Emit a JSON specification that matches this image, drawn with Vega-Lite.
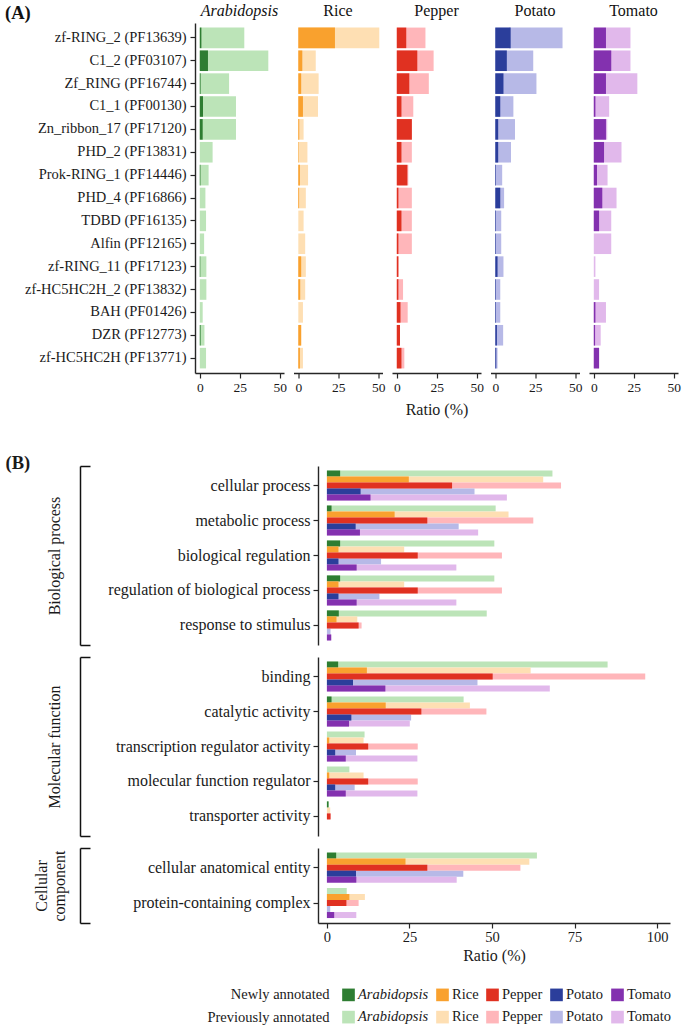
{
  "$schema": "https://vega.github.io/schema/vega-lite/v6.json",
  "padding": {"left": 5, "top": 3, "right": 2, "bottom": 0},
  "background": "white",
  "title": {"text": "(A)", "anchor": "start", "frame": "bounds", "orient": "top", "fontSize": 18.5, "fontWeight": "bold", "offset": -19, "color": "#111111"},
  "config": {
    "font": "Liberation Serif",
    "view": {"stroke": null},
    "axis": {"labelFont": "Liberation Serif", "titleFont": "Liberation Serif", "labelColor": "#1a1a1a", "titleColor": "#1a1a1a", "domainColor": "#262626", "tickColor": "#262626", "domainWidth": 1.4, "tickWidth": 1.2, "grid": false, "titleFontWeight": "normal"},
    "title": {"font": "Liberation Serif", "fontSize": 16, "fontWeight": "normal", "color": "#111111", "anchor": "middle", "frame": "group", "offset": 4},
    "text": {"font": "Liberation Serif"}
  },
  "datasets": {
    "pfam": [
      {"feature": "zf-RING_2 (PF13639)", "species": "Arabidopsis", "new": 1, "total": 27.8},
      {"feature": "C1_2 (PF03107)", "species": "Arabidopsis", "new": 5.1, "total": 42.8},
      {"feature": "Zf_RING (PF16744)", "species": "Arabidopsis", "new": 0.5, "total": 18.3},
      {"feature": "C1_1 (PF00130)", "species": "Arabidopsis", "new": 2, "total": 22.6},
      {"feature": "Zn_ribbon_17 (PF17120)", "species": "Arabidopsis", "new": 1.8, "total": 22.6},
      {"feature": "PHD_2 (PF13831)", "species": "Arabidopsis", "new": 0, "total": 8},
      {"feature": "Prok-RING_1 (PF14446)", "species": "Arabidopsis", "new": 0.4, "total": 5.5},
      {"feature": "PHD_4 (PF16866)", "species": "Arabidopsis", "new": 0, "total": 3.5},
      {"feature": "TDBD (PF16135)", "species": "Arabidopsis", "new": 0, "total": 3.9},
      {"feature": "Alfin (PF12165)", "species": "Arabidopsis", "new": 0, "total": 2.7},
      {"feature": "zf-RING_11 (PF17123)", "species": "Arabidopsis", "new": 0.3, "total": 4.1},
      {"feature": "zf-HC5HC2H_2 (PF13832)", "species": "Arabidopsis", "new": 0, "total": 4.1},
      {"feature": "BAH (PF01426)", "species": "Arabidopsis", "new": 0, "total": 1.8},
      {"feature": "DZR (PF12773)", "species": "Arabidopsis", "new": 0.5, "total": 2.9},
      {"feature": "zf-HC5HC2H (PF13771)", "species": "Arabidopsis", "new": 0, "total": 3.9},
      {"feature": "zf-RING_2 (PF13639)", "species": "Rice", "new": 22.9, "total": 50.6},
      {"feature": "C1_2 (PF03107)", "species": "Rice", "new": 2.5, "total": 10.9},
      {"feature": "Zf_RING (PF16744)", "species": "Rice", "new": 1.8, "total": 12.7},
      {"feature": "C1_1 (PF00130)", "species": "Rice", "new": 2.9, "total": 12.3},
      {"feature": "Zn_ribbon_17 (PF17120)", "species": "Rice", "new": 0.6, "total": 3.3},
      {"feature": "PHD_2 (PF13831)", "species": "Rice", "new": 0.3, "total": 5.7},
      {"feature": "Prok-RING_1 (PF14446)", "species": "Rice", "new": 1, "total": 6.1},
      {"feature": "PHD_4 (PF16866)", "species": "Rice", "new": 0.5, "total": 4.7},
      {"feature": "TDBD (PF16135)", "species": "Rice", "new": 0, "total": 3.3},
      {"feature": "Alfin (PF12165)", "species": "Rice", "new": 0, "total": 4.3},
      {"feature": "zf-RING_11 (PF17123)", "species": "Rice", "new": 1.8, "total": 4.7},
      {"feature": "zf-HC5HC2H_2 (PF13832)", "species": "Rice", "new": 1.2, "total": 4.3},
      {"feature": "BAH (PF01426)", "species": "Rice", "new": 0, "total": 2.9},
      {"feature": "DZR (PF12773)", "species": "Rice", "new": 1.8, "total": 1.8},
      {"feature": "zf-HC5HC2H (PF13771)", "species": "Rice", "new": 1, "total": 2.9},
      {"feature": "zf-RING_2 (PF13639)", "species": "Pepper", "new": 5.9, "total": 17.9},
      {"feature": "C1_2 (PF03107)", "species": "Pepper", "new": 12.8, "total": 23},
      {"feature": "Zf_RING (PF16744)", "species": "Pepper", "new": 7.8, "total": 20},
      {"feature": "C1_1 (PF00130)", "species": "Pepper", "new": 2.9, "total": 10.3},
      {"feature": "Zn_ribbon_17 (PF17120)", "species": "Pepper", "new": 9.4, "total": 9.4},
      {"feature": "PHD_2 (PF13831)", "species": "Pepper", "new": 2.9, "total": 9.4},
      {"feature": "Prok-RING_1 (PF14446)", "species": "Pepper", "new": 6.6, "total": 7.2},
      {"feature": "PHD_4 (PF16866)", "species": "Pepper", "new": 1, "total": 9.4},
      {"feature": "TDBD (PF16135)", "species": "Pepper", "new": 2.9, "total": 9.4},
      {"feature": "Alfin (PF12165)", "species": "Pepper", "new": 1, "total": 9.4},
      {"feature": "zf-RING_11 (PF17123)", "species": "Pepper", "new": 1, "total": 1},
      {"feature": "zf-HC5HC2H_2 (PF13832)", "species": "Pepper", "new": 1, "total": 3.9},
      {"feature": "BAH (PF01426)", "species": "Pepper", "new": 2.3, "total": 6.8},
      {"feature": "DZR (PF12773)", "species": "Pepper", "new": 2, "total": 2},
      {"feature": "zf-HC5HC2H (PF13771)", "species": "Pepper", "new": 2.9, "total": 4.7},
      {"feature": "zf-RING_2 (PF13639)", "species": "Potato", "new": 9.6, "total": 42},
      {"feature": "C1_2 (PF03107)", "species": "Potato", "new": 7.2, "total": 23.7},
      {"feature": "Zf_RING (PF16744)", "species": "Potato", "new": 5.1, "total": 25.7},
      {"feature": "C1_1 (PF00130)", "species": "Potato", "new": 3.1, "total": 11.3},
      {"feature": "Zn_ribbon_17 (PF17120)", "species": "Potato", "new": 1.8, "total": 12.3},
      {"feature": "PHD_2 (PF13831)", "species": "Potato", "new": 1.8, "total": 9.8},
      {"feature": "Prok-RING_1 (PF14446)", "species": "Potato", "new": 0.4, "total": 4.3},
      {"feature": "PHD_4 (PF16866)", "species": "Potato", "new": 3.1, "total": 5.5},
      {"feature": "TDBD (PF16135)", "species": "Potato", "new": 0.4, "total": 3.7},
      {"feature": "Alfin (PF12165)", "species": "Potato", "new": 0.4, "total": 3.7},
      {"feature": "zf-RING_11 (PF17123)", "species": "Potato", "new": 1.4, "total": 5.1},
      {"feature": "zf-HC5HC2H_2 (PF13832)", "species": "Potato", "new": 0.4, "total": 3.1},
      {"feature": "BAH (PF01426)", "species": "Potato", "new": 0.4, "total": 3.1},
      {"feature": "DZR (PF12773)", "species": "Potato", "new": 1, "total": 4.9},
      {"feature": "zf-HC5HC2H (PF13771)", "species": "Potato", "new": 0.6, "total": 1.4},
      {"feature": "zf-RING_2 (PF13639)", "species": "Tomato", "new": 7.6, "total": 22.9},
      {"feature": "C1_2 (PF03107)", "species": "Tomato", "new": 10.9, "total": 22.9},
      {"feature": "Zf_RING (PF16744)", "species": "Tomato", "new": 7.6, "total": 27.2},
      {"feature": "C1_1 (PF00130)", "species": "Tomato", "new": 1, "total": 9.6},
      {"feature": "Zn_ribbon_17 (PF17120)", "species": "Tomato", "new": 7.6, "total": 8.4},
      {"feature": "PHD_2 (PF13831)", "species": "Tomato", "new": 6.4, "total": 17.3},
      {"feature": "Prok-RING_1 (PF14446)", "species": "Tomato", "new": 2, "total": 8.6},
      {"feature": "PHD_4 (PF16866)", "species": "Tomato", "new": 5.3, "total": 14.2},
      {"feature": "TDBD (PF16135)", "species": "Tomato", "new": 3.3, "total": 10.9},
      {"feature": "Alfin (PF12165)", "species": "Tomato", "new": 0, "total": 10.9},
      {"feature": "zf-RING_11 (PF17123)", "species": "Tomato", "new": 0, "total": 1},
      {"feature": "zf-HC5HC2H_2 (PF13832)", "species": "Tomato", "new": 0, "total": 3.3},
      {"feature": "BAH (PF01426)", "species": "Tomato", "new": 1, "total": 7.6},
      {"feature": "DZR (PF12773)", "species": "Tomato", "new": 0.8, "total": 4.3},
      {"feature": "zf-HC5HC2H (PF13771)", "species": "Tomato", "new": 3.3, "total": 3.3}
    ],
    "go": [
      {"cat": "BP", "term": "cellular process", "species": "Arabidopsis", "new": 4.0, "total": 68.3},
      {"cat": "BP", "term": "cellular process", "species": "Rice", "new": 24.8, "total": 65.5},
      {"cat": "BP", "term": "cellular process", "species": "Pepper", "new": 37.9, "total": 70.9},
      {"cat": "BP", "term": "cellular process", "species": "Potato", "new": 10.2, "total": 44.7},
      {"cat": "BP", "term": "cellular process", "species": "Tomato", "new": 13.2, "total": 54.5},
      {"cat": "BP", "term": "metabolic process", "species": "Arabidopsis", "new": 1.4, "total": 51.1},
      {"cat": "BP", "term": "metabolic process", "species": "Rice", "new": 20.5, "total": 55.0},
      {"cat": "BP", "term": "metabolic process", "species": "Pepper", "new": 30.4, "total": 62.5},
      {"cat": "BP", "term": "metabolic process", "species": "Potato", "new": 8.7, "total": 39.9},
      {"cat": "BP", "term": "metabolic process", "species": "Tomato", "new": 10.0, "total": 45.8},
      {"cat": "BP", "term": "biological regulation", "species": "Arabidopsis", "new": 4.0, "total": 50.7},
      {"cat": "BP", "term": "biological regulation", "species": "Rice", "new": 3.5, "total": 23.4},
      {"cat": "BP", "term": "biological regulation", "species": "Pepper", "new": 27.5, "total": 53.0},
      {"cat": "BP", "term": "biological regulation", "species": "Potato", "new": 3.5, "total": 16.4},
      {"cat": "BP", "term": "biological regulation", "species": "Tomato", "new": 9.0, "total": 39.2},
      {"cat": "BP", "term": "regulation of biological process", "species": "Arabidopsis", "new": 4.0, "total": 50.7},
      {"cat": "BP", "term": "regulation of biological process", "species": "Rice", "new": 3.5, "total": 23.4},
      {"cat": "BP", "term": "regulation of biological process", "species": "Pepper", "new": 27.5, "total": 53.0},
      {"cat": "BP", "term": "regulation of biological process", "species": "Potato", "new": 3.5, "total": 15.9},
      {"cat": "BP", "term": "regulation of biological process", "species": "Tomato", "new": 9.0, "total": 39.2},
      {"cat": "BP", "term": "response to stimulus", "species": "Arabidopsis", "new": 3.6, "total": 48.4},
      {"cat": "BP", "term": "response to stimulus", "species": "Rice", "new": 2.9, "total": 9.2},
      {"cat": "BP", "term": "response to stimulus", "species": "Pepper", "new": 9.6, "total": 10.5},
      {"cat": "BP", "term": "response to stimulus", "species": "Potato", "new": 0, "total": 1.1},
      {"cat": "BP", "term": "response to stimulus", "species": "Tomato", "new": 1.3, "total": 1.3},
      {"cat": "MF", "term": "binding", "species": "Arabidopsis", "new": 3.4, "total": 85.0},
      {"cat": "MF", "term": "binding", "species": "Rice", "new": 12.1, "total": 61.7},
      {"cat": "MF", "term": "binding", "species": "Pepper", "new": 50.2, "total": 96.4},
      {"cat": "MF", "term": "binding", "species": "Potato", "new": 7.9, "total": 45.6},
      {"cat": "MF", "term": "binding", "species": "Tomato", "new": 17.7, "total": 67.5},
      {"cat": "MF", "term": "catalytic activity", "species": "Arabidopsis", "new": 1.4, "total": 41.4},
      {"cat": "MF", "term": "catalytic activity", "species": "Rice", "new": 17.8, "total": 43.3},
      {"cat": "MF", "term": "catalytic activity", "species": "Pepper", "new": 28.6, "total": 48.3},
      {"cat": "MF", "term": "catalytic activity", "species": "Potato", "new": 7.4, "total": 25.5},
      {"cat": "MF", "term": "catalytic activity", "species": "Tomato", "new": 6.7, "total": 25.1},
      {"cat": "MF", "term": "transcription regulator activity", "species": "Arabidopsis", "new": 0, "total": 11.4},
      {"cat": "MF", "term": "transcription regulator activity", "species": "Rice", "new": 0.7, "total": 11.1},
      {"cat": "MF", "term": "transcription regulator activity", "species": "Pepper", "new": 12.5, "total": 27.5},
      {"cat": "MF", "term": "transcription regulator activity", "species": "Potato", "new": 2.5, "total": 8.8},
      {"cat": "MF", "term": "transcription regulator activity", "species": "Tomato", "new": 5.7, "total": 27.4},
      {"cat": "MF", "term": "molecular function regulator", "species": "Arabidopsis", "new": 0, "total": 6.8},
      {"cat": "MF", "term": "molecular function regulator", "species": "Rice", "new": 0.7, "total": 11.1},
      {"cat": "MF", "term": "molecular function regulator", "species": "Pepper", "new": 12.5, "total": 27.5},
      {"cat": "MF", "term": "molecular function regulator", "species": "Potato", "new": 2.5, "total": 8.4},
      {"cat": "MF", "term": "molecular function regulator", "species": "Tomato", "new": 5.7, "total": 27.4},
      {"cat": "MF", "term": "transporter activity", "species": "Arabidopsis", "new": 0.5, "total": 0.5},
      {"cat": "MF", "term": "transporter activity", "species": "Rice", "new": 0, "total": 1.0},
      {"cat": "MF", "term": "transporter activity", "species": "Pepper", "new": 1.1, "total": 1.1},
      {"cat": "MF", "term": "transporter activity", "species": "Potato", "new": 0, "total": 0},
      {"cat": "MF", "term": "transporter activity", "species": "Tomato", "new": 0, "total": 0},
      {"cat": "CC", "term": "cellular anatomical entity", "species": "Arabidopsis", "new": 2.8, "total": 63.6},
      {"cat": "CC", "term": "cellular anatomical entity", "species": "Rice", "new": 23.8, "total": 61.3},
      {"cat": "CC", "term": "cellular anatomical entity", "species": "Pepper", "new": 30.4, "total": 58.6},
      {"cat": "CC", "term": "cellular anatomical entity", "species": "Potato", "new": 8.8, "total": 41.3},
      {"cat": "CC", "term": "cellular anatomical entity", "species": "Tomato", "new": 8.9, "total": 39.3},
      {"cat": "CC", "term": "protein-containing complex", "species": "Arabidopsis", "new": 0, "total": 6.0},
      {"cat": "CC", "term": "protein-containing complex", "species": "Rice", "new": 6.8, "total": 11.5},
      {"cat": "CC", "term": "protein-containing complex", "species": "Pepper", "new": 5.9, "total": 9.6},
      {"cat": "CC", "term": "protein-containing complex", "species": "Potato", "new": 0, "total": 1.0},
      {"cat": "CC", "term": "protein-containing complex", "species": "Tomato", "new": 2.2, "total": 8.9}
    ],
    "status": [{"status": "Newly annotated"}, {"status": "Previously annotated"}]
  },
  "concat": [
    {
      "hconcat": [
        {
          "width": 89, "height": 350,
          "title": {"text": "Arabidopsis", "fontStyle": "italic"},
          "data": {"name": "pfam"},
          "transform": [{"filter": "datum.species === 'Arabidopsis'"}],
          "encoding": {"y": {"field": "feature", "type": "nominal", "sort": ["zf-RING_2 (PF13639)","C1_2 (PF03107)","Zf_RING (PF16744)","C1_1 (PF00130)","Zn_ribbon_17 (PF17120)","PHD_2 (PF13831)","Prok-RING_1 (PF14446)","PHD_4 (PF16866)","TDBD (PF16135)","Alfin (PF12165)","zf-RING_11 (PF17123)","zf-HC5HC2H_2 (PF13832)","BAH (PF01426)","DZR (PF12773)","zf-HC5HC2H (PF13771)"], "scale": {"paddingInner": 0.1, "paddingOuter": 0.2},
            "axis": {"title": null, "labelFontSize": 14.5, "tickSize": 5, "labelPadding": 4, "labelLimit": 300}}},
          "layer": [
            {"mark": {"type": "bar", "color": "#BCE4B8"}, "encoding": {"x": {"field": "total", "type": "quantitative", "stack": null, "scale": {"domain": [-3, 52.6], "nice": false}, "axis": {"values": [0, 25, 50], "title": null, "labelFlush": false, "tickSize": 5, "labelFontSize": 13.5, "labelPadding": 2}}}},
            {"mark": {"type": "bar", "color": "#2E7D32"}, "encoding": {"x": {"field": "new", "type": "quantitative", "stack": null, "axis": {"values": [0, 25, 50], "title": null, "labelFlush": false, "tickSize": 5, "labelFontSize": 13.5, "labelPadding": 2}}}}
          ]
        },
        {
          "width": 89, "height": 350,
          "title": {"text": "Rice"},
          "data": {"name": "pfam"},
          "transform": [{"filter": "datum.species === 'Rice'"}],
          "encoding": {"y": {"field": "feature", "type": "nominal", "sort": ["zf-RING_2 (PF13639)","C1_2 (PF03107)","Zf_RING (PF16744)","C1_1 (PF00130)","Zn_ribbon_17 (PF17120)","PHD_2 (PF13831)","Prok-RING_1 (PF14446)","PHD_4 (PF16866)","TDBD (PF16135)","Alfin (PF12165)","zf-RING_11 (PF17123)","zf-HC5HC2H_2 (PF13832)","BAH (PF01426)","DZR (PF12773)","zf-HC5HC2H (PF13771)"], "scale": {"paddingInner": 0.1, "paddingOuter": 0.2}, "axis": null}},
          "layer": [
            {"mark": {"type": "bar", "color": "#FEDFB3"}, "encoding": {"x": {"field": "total", "type": "quantitative", "stack": null, "scale": {"domain": [-3, 52.6], "nice": false}, "axis": {"values": [0, 25, 50], "title": null, "labelFlush": false, "tickSize": 5, "labelFontSize": 13.5, "labelPadding": 2}}}},
            {"mark": {"type": "bar", "color": "#F9A12E"}, "encoding": {"x": {"field": "new", "type": "quantitative", "stack": null, "axis": {"values": [0, 25, 50], "title": null, "labelFlush": false, "tickSize": 5, "labelFontSize": 13.5, "labelPadding": 2}}}}
          ]
        },
        {
          "width": 89, "height": 350,
          "title": {"text": "Pepper"},
          "data": {"name": "pfam"},
          "transform": [{"filter": "datum.species === 'Pepper'"}],
          "encoding": {"y": {"field": "feature", "type": "nominal", "sort": ["zf-RING_2 (PF13639)","C1_2 (PF03107)","Zf_RING (PF16744)","C1_1 (PF00130)","Zn_ribbon_17 (PF17120)","PHD_2 (PF13831)","Prok-RING_1 (PF14446)","PHD_4 (PF16866)","TDBD (PF16135)","Alfin (PF12165)","zf-RING_11 (PF17123)","zf-HC5HC2H_2 (PF13832)","BAH (PF01426)","DZR (PF12773)","zf-HC5HC2H (PF13771)"], "scale": {"paddingInner": 0.1, "paddingOuter": 0.2}, "axis": null}},
          "layer": [
            {"mark": {"type": "bar", "color": "#FFB6BA"}, "encoding": {"x": {"field": "total", "type": "quantitative", "stack": null, "scale": {"domain": [-3, 52.6], "nice": false}, "axis": {"values": [0, 25, 50], "title": "Ratio (%)", "titleFontSize": 16, "titlePadding": 8, "labelFlush": false, "tickSize": 5, "labelFontSize": 13.5, "labelPadding": 2}}}},
            {"mark": {"type": "bar", "color": "#E03121"}, "encoding": {"x": {"field": "new", "type": "quantitative", "stack": null, "axis": {"values": [0, 25, 50], "title": "Ratio (%)", "titleFontSize": 16, "titlePadding": 8, "labelFlush": false, "tickSize": 5, "labelFontSize": 13.5, "labelPadding": 2}}}}
          ]
        },
        {
          "width": 89, "height": 350,
          "title": {"text": "Potato"},
          "data": {"name": "pfam"},
          "transform": [{"filter": "datum.species === 'Potato'"}],
          "encoding": {"y": {"field": "feature", "type": "nominal", "sort": ["zf-RING_2 (PF13639)","C1_2 (PF03107)","Zf_RING (PF16744)","C1_1 (PF00130)","Zn_ribbon_17 (PF17120)","PHD_2 (PF13831)","Prok-RING_1 (PF14446)","PHD_4 (PF16866)","TDBD (PF16135)","Alfin (PF12165)","zf-RING_11 (PF17123)","zf-HC5HC2H_2 (PF13832)","BAH (PF01426)","DZR (PF12773)","zf-HC5HC2H (PF13771)"], "scale": {"paddingInner": 0.1, "paddingOuter": 0.2}, "axis": null}},
          "layer": [
            {"mark": {"type": "bar", "color": "#B7B9E7"}, "encoding": {"x": {"field": "total", "type": "quantitative", "stack": null, "scale": {"domain": [-3, 52.6], "nice": false}, "axis": {"values": [0, 25, 50], "title": null, "labelFlush": false, "tickSize": 5, "labelFontSize": 13.5, "labelPadding": 2}}}},
            {"mark": {"type": "bar", "color": "#2B3E9B"}, "encoding": {"x": {"field": "new", "type": "quantitative", "stack": null, "axis": {"values": [0, 25, 50], "title": null, "labelFlush": false, "tickSize": 5, "labelFontSize": 13.5, "labelPadding": 2}}}}
          ]
        },
        {
          "width": 89, "height": 350,
          "title": {"text": "Tomato"},
          "data": {"name": "pfam"},
          "transform": [{"filter": "datum.species === 'Tomato'"}],
          "encoding": {"y": {"field": "feature", "type": "nominal", "sort": ["zf-RING_2 (PF13639)","C1_2 (PF03107)","Zf_RING (PF16744)","C1_1 (PF00130)","Zn_ribbon_17 (PF17120)","PHD_2 (PF13831)","Prok-RING_1 (PF14446)","PHD_4 (PF16866)","TDBD (PF16135)","Alfin (PF12165)","zf-RING_11 (PF17123)","zf-HC5HC2H_2 (PF13832)","BAH (PF01426)","DZR (PF12773)","zf-HC5HC2H (PF13771)"], "scale": {"paddingInner": 0.1, "paddingOuter": 0.2}, "axis": null}},
          "layer": [
            {"mark": {"type": "bar", "color": "#E1B8EB"}, "encoding": {"x": {"field": "total", "type": "quantitative", "stack": null, "scale": {"domain": [-3, 52.6], "nice": false}, "axis": {"values": [0, 25, 50], "title": null, "labelFlush": false, "tickSize": 5, "labelFontSize": 13.5, "labelPadding": 2}}}},
            {"mark": {"type": "bar", "color": "#8331AF"}, "encoding": {"x": {"field": "new", "type": "quantitative", "stack": null, "axis": {"values": [0, 25, 50], "title": null, "labelFlush": false, "tickSize": 5, "labelFontSize": 13.5, "labelPadding": 2}}}}
          ]
        }
      ],
      "spacing": 6.5
    },
    {
      "concat": [
        {
          "vconcat": [
            {
              "width": 475, "height": 179,
              "data": {"name": "go"},
              "transform": [{"filter": "datum.cat === 'BP'"}],
              "layer": [
                {
                  "encoding": {
                    "y": {"field": "term", "type": "nominal", "sort": ["cellular process","metabolic process","biological regulation","regulation of biological process","response to stimulus"], "scale": {"paddingInner": 0.14, "paddingOuter": 0.13},
                      "axis": {"offset": -123, "title": "(B)", "titleAngle": 0, "titleX": -313, "titleY": -4, "titleAlign": "left", "titleBaseline": "middle", "titleFontWeight": "bold", "titleFontSize": 18.5, "labelFontSize": 16, "tickSize": 5, "labelPadding": 3, "labelLimit": 400}},
                    "yOffset": {"field": "species", "type": "nominal", "sort": ["Arabidopsis","Rice","Pepper","Potato","Tomato"], "scale": {"paddingInner": 0, "paddingOuter": 0}}
                  },
                  "layer": [
                    {"mark": "bar", "encoding": {"x": {"field": "total", "type": "quantitative", "stack": null, "scale": {"domain": [-2.7, 103.9], "nice": false, "range": [123, 475]}, "axis": null}, "color": {"field": "species", "type": "nominal", "scale": {"domain": ["Arabidopsis","Rice","Pepper","Potato","Tomato"], "range": ["#BCE4B8","#FEDFB3","#FFB6BA","#B7B9E7","#E1B8EB"]}, "legend": null}}},
                    {"mark": "bar", "encoding": {"x": {"field": "new", "type": "quantitative", "stack": null, "axis": null}, "color": {"field": "species", "type": "nominal", "scale": {"domain": ["Arabidopsis","Rice","Pepper","Potato","Tomato"], "range": ["#2E7D32","#F9A12E","#E03121","#2B3E9B","#8331AF"]}, "legend": null}}}
                  ],
                  "resolve": {"scale": {"color": "independent"}}
                },
                {
                  "mark": {"type": "point", "opacity": 0},
                  "encoding": {"y": {"datum": 0.5, "type": "quantitative", "scale": {"domain": [0, 1], "nice": false, "zero": false},
                    "axis": {"orient": "left", "offset": 115, "values": [0, 1], "tickSize": -10, "labels": false, "grid": false, "domainWidth": 1.5, "tickWidth": 1.5, "domainColor": "#111111", "tickColor": "#111111", "title": "Biological process", "titleFontSize": 16, "titlePadding": 17}}}
                }
              ],
              "resolve": {"scale": {"y": "independent", "color": "independent"}, "axis": {"y": "independent"}}
            },
            {
              "width": 475, "height": 179,
              "data": {"name": "go"},
              "transform": [{"filter": "datum.cat === 'MF'"}],
              "layer": [
                {
                  "encoding": {
                    "y": {"field": "term", "type": "nominal", "sort": ["binding","catalytic activity","transcription regulator activity","molecular function regulator","transporter activity"], "scale": {"paddingInner": 0.14, "paddingOuter": 0.13},
                      "axis": {"offset": -123, "title": null, "labelFontSize": 16, "tickSize": 5, "labelPadding": 3, "labelLimit": 400}},
                    "yOffset": {"field": "species", "type": "nominal", "sort": ["Arabidopsis","Rice","Pepper","Potato","Tomato"], "scale": {"paddingInner": 0, "paddingOuter": 0}}
                  },
                  "layer": [
                    {"mark": "bar", "encoding": {"x": {"field": "total", "type": "quantitative", "stack": null, "scale": {"domain": [-2.7, 103.9], "nice": false, "range": [123, 475]}, "axis": null}, "color": {"field": "species", "type": "nominal", "scale": {"domain": ["Arabidopsis","Rice","Pepper","Potato","Tomato"], "range": ["#BCE4B8","#FEDFB3","#FFB6BA","#B7B9E7","#E1B8EB"]}, "legend": null}}},
                    {"mark": "bar", "encoding": {"x": {"field": "new", "type": "quantitative", "stack": null, "axis": null}, "color": {"field": "species", "type": "nominal", "scale": {"domain": ["Arabidopsis","Rice","Pepper","Potato","Tomato"], "range": ["#2E7D32","#F9A12E","#E03121","#2B3E9B","#8331AF"]}, "legend": null}}}
                  ],
                  "resolve": {"scale": {"color": "independent"}}
                },
                {
                  "mark": {"type": "point", "opacity": 0},
                  "encoding": {"y": {"datum": 0.5, "type": "quantitative", "scale": {"domain": [0, 1], "nice": false, "zero": false},
                    "axis": {"orient": "left", "offset": 115, "values": [0, 1], "tickSize": -10, "labels": false, "grid": false, "domainWidth": 1.5, "tickWidth": 1.5, "domainColor": "#111111", "tickColor": "#111111", "title": "Molecular function", "titleFontSize": 16, "titlePadding": 17}}}
                }
              ],
              "resolve": {"scale": {"y": "independent", "color": "independent"}, "axis": {"y": "independent"}}
            },
            {
              "width": 475, "height": 75,
              "data": {"name": "go"},
              "transform": [{"filter": "datum.cat === 'CC'"}],
              "layer": [
                {
                  "encoding": {
                    "y": {"field": "term", "type": "nominal", "sort": ["cellular anatomical entity","protein-containing complex"], "scale": {"paddingInner": 0.14, "paddingOuter": 0.13},
                      "axis": {"offset": -123, "title": null, "labelFontSize": 16, "tickSize": 5, "labelPadding": 3, "labelLimit": 400}},
                    "yOffset": {"field": "species", "type": "nominal", "sort": ["Arabidopsis","Rice","Pepper","Potato","Tomato"], "scale": {"paddingInner": 0, "paddingOuter": 0}}
                  },
                  "layer": [
                    {"mark": "bar", "encoding": {"x": {"field": "total", "type": "quantitative", "stack": null, "scale": {"domain": [-2.7, 103.9], "nice": false, "range": [123, 475]}, "axis": {"values": [0, 25, 50, 75, 100], "title": "Ratio (%)", "titleFontSize": 16, "titlePadding": 4, "labelFlush": false, "tickSize": 5, "labelFontSize": 14.5, "labelPadding": 2}}, "color": {"field": "species", "type": "nominal", "scale": {"domain": ["Arabidopsis","Rice","Pepper","Potato","Tomato"], "range": ["#BCE4B8","#FEDFB3","#FFB6BA","#B7B9E7","#E1B8EB"]}, "legend": null}}},
                    {"mark": "bar", "encoding": {"x": {"field": "new", "type": "quantitative", "stack": null, "axis": {"values": [0, 25, 50, 75, 100], "title": "Ratio (%)", "titleFontSize": 16, "titlePadding": 4, "labelFlush": false, "tickSize": 5, "labelFontSize": 14.5, "labelPadding": 2}}, "color": {"field": "species", "type": "nominal", "scale": {"domain": ["Arabidopsis","Rice","Pepper","Potato","Tomato"], "range": ["#2E7D32","#F9A12E","#E03121","#2B3E9B","#8331AF"]}, "legend": null}}}
                  ],
                  "resolve": {"scale": {"color": "independent"}}
                },
                {
                  "mark": {"type": "point", "opacity": 0},
                  "encoding": {"y": {"datum": 0.5, "type": "quantitative", "scale": {"domain": [0, 1], "nice": false, "zero": false},
                    "axis": {"orient": "left", "offset": 115, "values": [0, 1], "tickSize": -10, "labels": false, "grid": false, "domainWidth": 1.5, "tickWidth": 1.5, "domainColor": "#111111", "tickColor": "#111111", "title": ["Cellular", "component"], "titleFontSize": 16, "titlePadding": 12}}}
                }
              ],
              "resolve": {"scale": {"y": "independent", "color": "independent"}, "axis": {"y": "independent"}}
            }
          ],
          "spacing": 10
        },
        {
          "hconcat": [
            {"width": 1, "height": 40, "data": {"values": [{"k": 1}]}, "mark": {"type": "point", "opacity": 0}},
            {
              "width": 13, "height": 40, "data": {"name": "status"},
              "encoding": {"y": {"field": "status", "type": "nominal", "scale": {"padding": 0.4}, "axis": {"title": null, "domain": false, "ticks": false, "tickSize": 0, "labelPadding": 13, "labelFontSize": 14.5, "labelLimit": 300}}},
              "layer": [
                {"mark": {"type": "square", "size": 160, "opacity": 1}, "encoding": {"color": {"field": "status", "type": "nominal", "scale": {"domain": ["Newly annotated", "Previously annotated"], "range": ["#2E7D32", "#BCE4B8"]}, "legend": null}}},
                {"mark": {"type": "text", "align": "left", "dx": 9.5, "fontSize": 14.5, "fontStyle": "italic", "color": "#1a1a1a"}, "encoding": {"text": {"value": "Arabidopsis"}}}
              ]
            },
            {
              "width": 13, "height": 40, "data": {"name": "status"},
              "encoding": {"y": {"field": "status", "type": "nominal", "scale": {"padding": 0.4}, "axis": null}},
              "layer": [
                {"mark": {"type": "square", "size": 160, "opacity": 1}, "encoding": {"color": {"field": "status", "type": "nominal", "scale": {"domain": ["Newly annotated", "Previously annotated"], "range": ["#F9A12E", "#FEDFB3"]}, "legend": null}}},
                {"mark": {"type": "text", "align": "left", "dx": 9.5, "fontSize": 14.5, "color": "#1a1a1a"}, "encoding": {"text": {"value": "Rice"}}}
              ]
            },
            {
              "width": 13, "height": 40, "data": {"name": "status"},
              "encoding": {"y": {"field": "status", "type": "nominal", "scale": {"padding": 0.4}, "axis": null}},
              "layer": [
                {"mark": {"type": "square", "size": 160, "opacity": 1}, "encoding": {"color": {"field": "status", "type": "nominal", "scale": {"domain": ["Newly annotated", "Previously annotated"], "range": ["#E03121", "#FFB6BA"]}, "legend": null}}},
                {"mark": {"type": "text", "align": "left", "dx": 9.5, "fontSize": 14.5, "color": "#1a1a1a"}, "encoding": {"text": {"value": "Pepper"}}}
              ]
            },
            {
              "width": 13, "height": 40, "data": {"name": "status"},
              "encoding": {"y": {"field": "status", "type": "nominal", "scale": {"padding": 0.4}, "axis": null}},
              "layer": [
                {"mark": {"type": "square", "size": 160, "opacity": 1}, "encoding": {"color": {"field": "status", "type": "nominal", "scale": {"domain": ["Newly annotated", "Previously annotated"], "range": ["#2B3E9B", "#B7B9E7"]}, "legend": null}}},
                {"mark": {"type": "text", "align": "left", "dx": 9.5, "fontSize": 14.5, "color": "#1a1a1a"}, "encoding": {"text": {"value": "Potato"}}}
              ]
            },
            {
              "width": 13, "height": 40, "data": {"name": "status"},
              "encoding": {"y": {"field": "status", "type": "nominal", "scale": {"padding": 0.4}, "axis": null}},
              "layer": [
                {"mark": {"type": "square", "size": 160, "opacity": 1}, "encoding": {"color": {"field": "status", "type": "nominal", "scale": {"domain": ["Newly annotated", "Previously annotated"], "range": ["#8331AF", "#E1B8EB"]}, "legend": null}}},
                {"mark": {"type": "text", "align": "left", "dx": 9.5, "fontSize": 14.5, "color": "#1a1a1a"}, "encoding": {"text": {"value": "Tomato"}}}
              ]
            }
          ],
          "spacing": 7,
          "resolve": {"scale": {"color": "independent"}}
        }
      ],
      "columns": 1,
      "align": "none",
      "spacing": 22
    }
  ],
  "columns": 1,
  "align": "none",
  "spacing": 35
}
